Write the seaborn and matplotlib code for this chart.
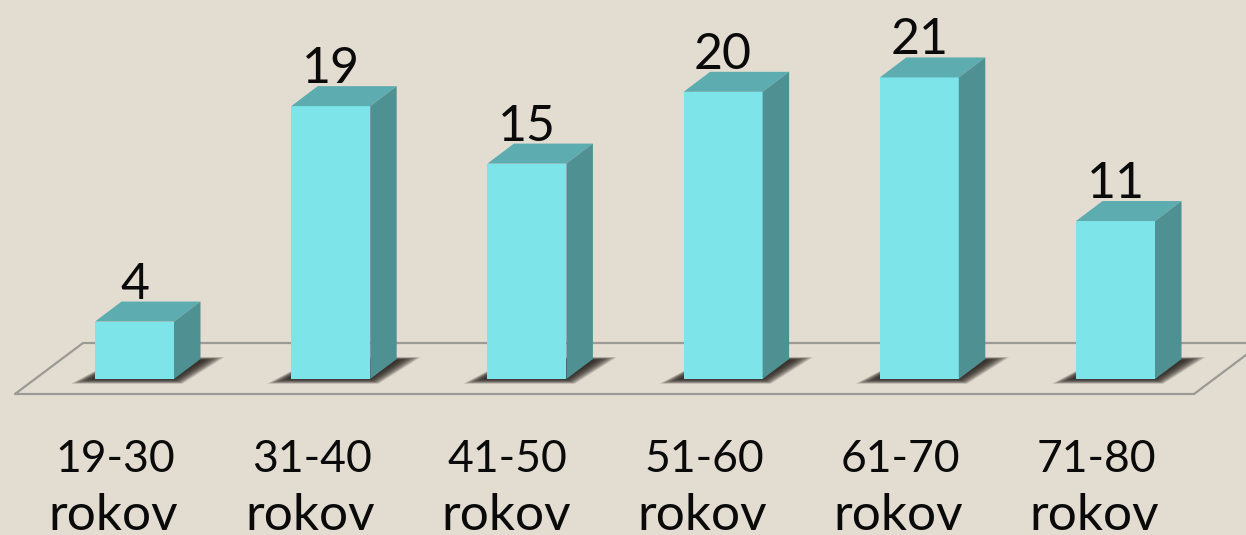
import matplotlib
matplotlib.use("Agg")
import matplotlib.pyplot as plt
from matplotlib.transforms import ScaledTranslation
import seaborn as sns
import pandas as pd

categories = ["19-30", "31-40", "41-50", "51-60", "61-70", "71-80"]
values = [4, 19, 15, 20, 21, 11]
unit = "rokov"

BG = "#E3DDD1"
FRONT = "#7DE5EA"
TOP = "#5DACB0"
SIDE = "#4F9092"
FLOOR = "#9B9A96"

W, H = 1246, 535
PX_X = 196.2   # pixels per category
PX_Y = 14.36   # pixels per unit
BASE_Y = 379   # baseline in pixels from top
AX_BOTTOM = 400

sns.set_theme(style="white", rc={"figure.facecolor": BG, "axes.facecolor": BG})
plt.rcParams["font.family"] = ["Lato", "DejaVu Sans"]

fig = plt.figure(figsize=(W / 100, H / 100), dpi=100)
ax = fig.add_axes([0, 1 - AX_BOTTOM / H, 1, AX_BOTTOM / H])

df = pd.DataFrame({"age": categories, "count": values})
sns.barplot(data=df, x="age", y="count", color=FRONT, saturation=1, width=79 / PX_X, ax=ax, zorder=5)

x0 = -134.5 / PX_X
ax.set_xlim(x0, x0 + W / PX_X)
ax.set_ylim(-(AX_BOTTOM - BASE_Y) / PX_Y, BASE_Y / PX_Y)


def px(dx):
    return dx / PX_X


def py(dy):
    return dy / PX_Y


# floor outline
ax.plot([px(15) + x0, px(83) + x0, px(1262) + x0, px(1194) + x0, px(15) + x0],
        [py(-15), py(36), py(36), py(-15), py(-15)],
        color=FLOOR, lw=1.6, zorder=1, solid_joinstyle="miter")

depth_x, depth_y = px(26.5), py(20)

for bar, v in zip(ax.patches, values):
    left, right = bar.get_x(), bar.get_x() + bar.get_width()
    bar.set_edgecolor("none")
    mid = (left + right) / 2

    # soft shadow, stacked from wide/faint to tight/dark
    for g in range(17, -1, -1):
        ex = g * 1.25
        ey = g * 0.28
        ax.fill([left - px(3 + ex), right + px(ex * 0.4), right + depth_x + px(3 + ex), left + depth_x],
                [py(-ey), py(-ey), py(19 + ey * 0.6), py(19 + ey * 0.6)],
                color="#221C18", alpha=0.10, lw=0, zorder=2)

    ax.fill([left, right, right + depth_x, left + depth_x], [v, v, v + depth_y, v + depth_y],
            color=TOP, lw=0, zorder=6)
    ax.fill([right, right + depth_x, right + depth_x, right], [0, depth_y, v + depth_y, v],
            color=SIDE, lw=0, zorder=6)
    ax.text(mid, v + depth_y + py(3), str(v), ha="center", va="baseline",
            fontsize=36, color="#0A0A0A", zorder=7)
    ax.text(mid - px(21), py(-151), unit, ha="center", va="baseline",
            fontsize=37, color="#0A0A0A")

ax.set_xlabel("")
ax.set_ylabel("")
ax.set_yticks([])
ax.tick_params(axis="x", length=0, pad=28, labelsize=32, labelcolor="#0A0A0A")
shift = ScaledTranslation(-19 / 100, 0, fig.dpi_scale_trans)
for t in ax.get_xticklabels():
    t.set_transform(t.get_transform() + shift)
sns.despine(ax=ax, left=True, bottom=True)

fig.savefig("out.png", dpi=100, facecolor=BG)
